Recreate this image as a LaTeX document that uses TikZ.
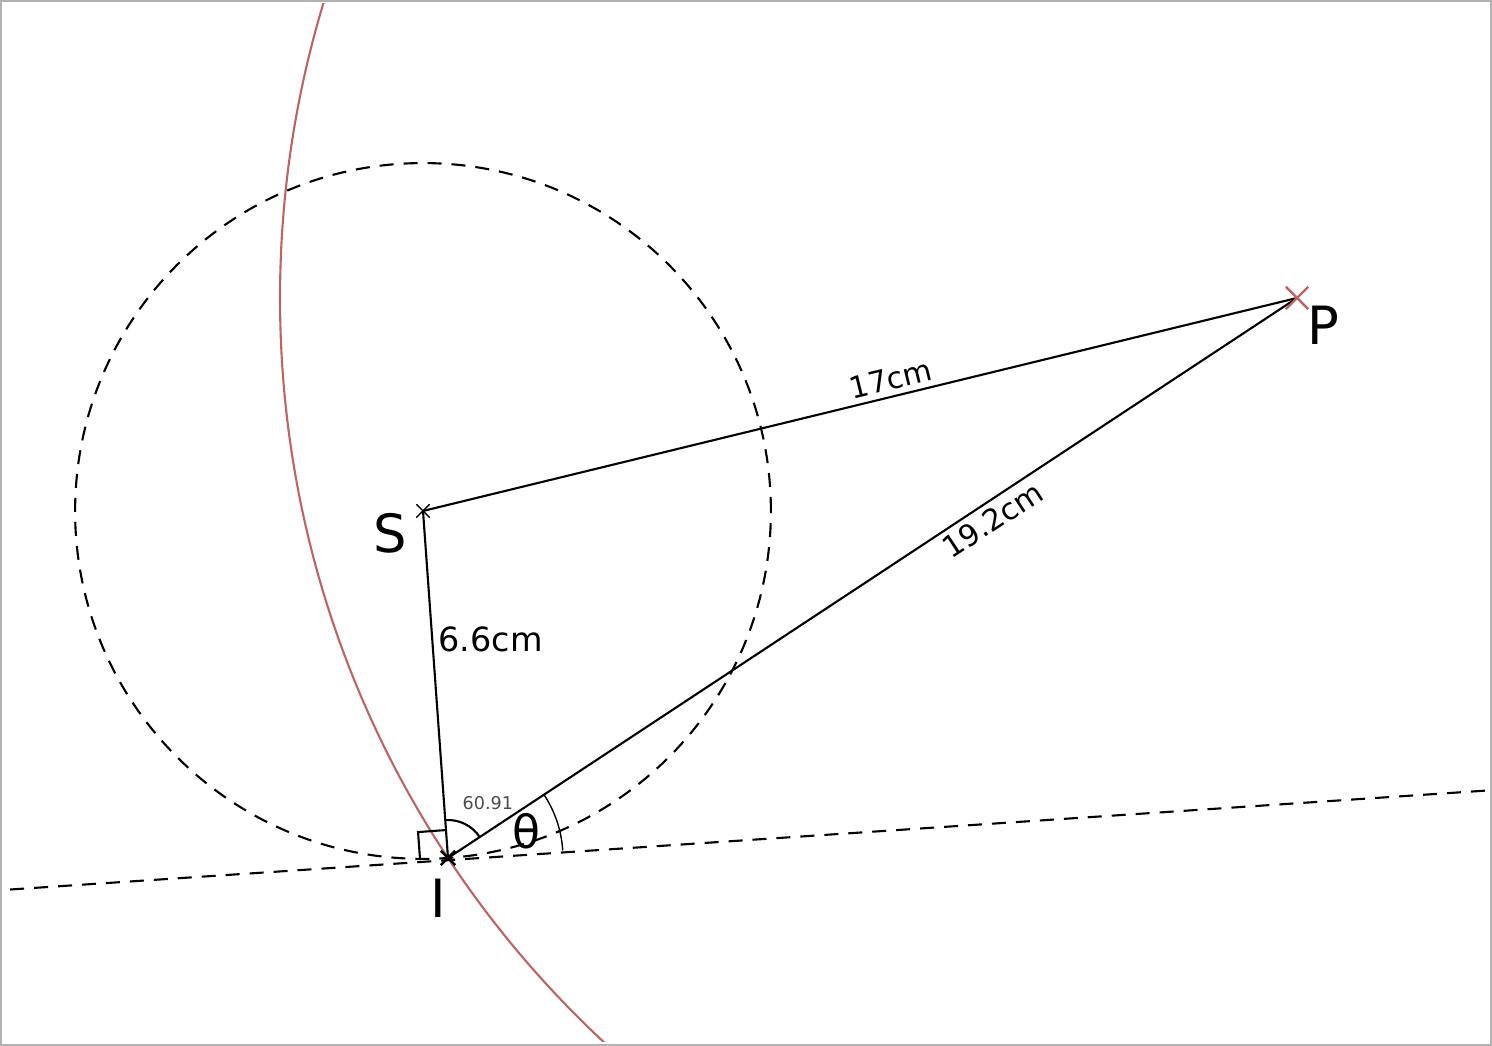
\documentclass[tikz,border=0pt]{standalone}
\usepackage{fontspec}
\setmainfont{DejaVu Sans}
\usetikzlibrary{calc,angles,quotes,positioning,shapes.misc}
\definecolor{arcred}{RGB}{190,100,100}
\tikzset{
  thinline/.style={line width=0.6pt},
  helpline/.style={line width=0.6pt, dash pattern=on 0.14cm off 0.1cm},
  crossmark/.style={cross out, draw, inner sep=0pt, minimum size=#1, line width=0.4pt},
  ptlabel/.style={inner sep=0pt, font=\fontsize{15}{15}\selectfont},
  lenlabel/.style={inner sep=1.5pt, font=\fontsize{8.5}{8.5}\selectfont},
}
\begin{document}
\begin{tikzpicture}
	\useasboundingbox (0,0) rectangle (14.92,10.46);
	\draw[gray!60, line width=1.2pt] (0,0) rectangle (14.92,10.46);
	\clip (0.04,0.04) rectangle (14.88,10.42);
	% points
	\coordinate (S) at (4.23,5.35);
	\coordinate (P) at (12.97,7.48);
	\coordinate (I) at (4.48,1.88);
	% circle round S through I, arc round P through I
	\draw[helpline] let \p1=($(I)-(S)$), \n1={veclen(\x1,\y1)} in (S) circle (\n1);
	\draw[arcred, thinline] let \p1=($(I)-(P)$), \n1={veclen(\x1,\y1)} in (P) circle (\n1);
	% tangent at I
	\coordinate (TL) at ($(I)!4.39cm!90:(S)$);
	\coordinate (TR) at ($(I)!11cm!-90.4:(S)$);
	\draw[helpline] (TL) -- (TR);
	% triangle
	\draw[thinline] (S) -- node[lenlabel, pos=0.54, above, sloped] {17cm} (P);
	\draw[thinline] (I) -- node[lenlabel, pos=0.63, below, sloped] {19.2cm} (P);
	\draw[thinline] (S) -- node[lenlabel, pos=0.37, right, font=\fontsize{9.5}{9.5}\selectfont] {6.6cm} (I);
	% right angle
	\coordinate (RA) at ($(I)!0.28cm!(S)$);
	\coordinate (RB) at ($(I)!0.28cm!90:(S)$);
	\draw[thinline] (RA) -- ($(RA)+(RB)-(I)$) -- (RB);
	% angles
	\pic[draw, thinline, angle radius=0.38cm, "\fontsize{5}{5}\selectfont\color{black!70}60.91", angle eccentricity=1.6, pic text options={xshift=0.13cm}] {angle=P--I--S};
	\pic[draw, line width=0.4pt, angle radius=1.15cm, "\fontsize{13}{13}\selectfont θ", angle eccentricity=0.72] {angle=TR--I--P};
	% marks
	\node[crossmark=0.12cm] (Sx) at (S) {};
	\node[crossmark=0.2cm, draw=arcred, line width=0.7pt] (Px) at (P) {};
	\node[crossmark=0.12cm, line width=0.7pt] (Ix) at (I) {};
	% labels
	\node[ptlabel, below left=0.02cm and 0.15cm of S] (Slab) {S};
	\node[ptlabel, below right=0.07cm and 0.1cm of P] (Plab) {P};
	\node[ptlabel, below=0.2cm of I, xshift=-0.1cm] (Ilab) {I};
\end{tikzpicture}
\end{document}
